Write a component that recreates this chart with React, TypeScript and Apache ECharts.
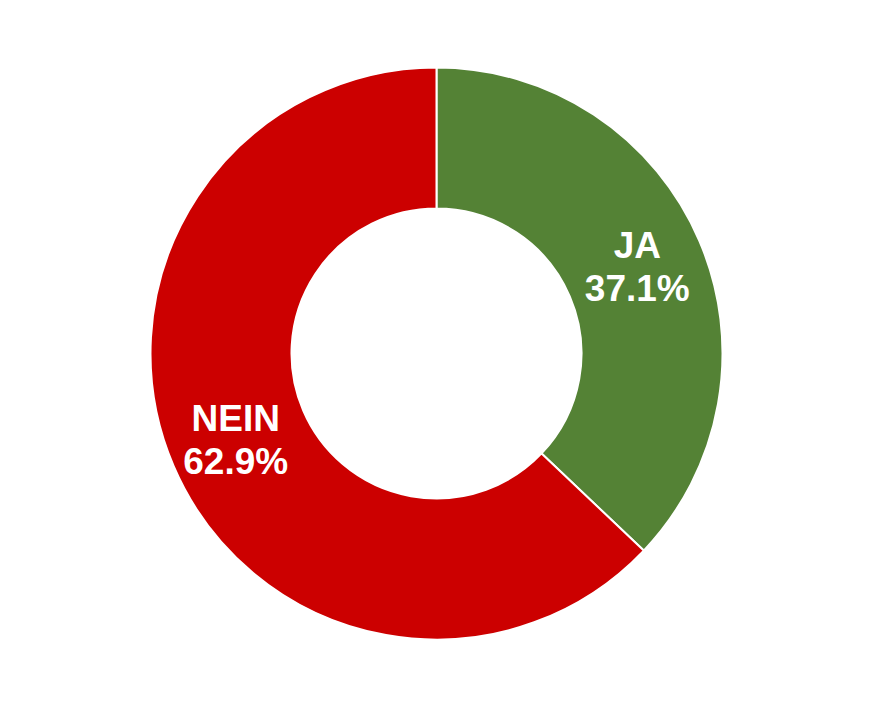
import React, { useEffect, useRef } from "react";
import * as echarts from "echarts";

const categories = ["JA", "NEIN"];
const values = [37.1, 62.9];
const colors = ["#548235", "#CC0000"];

export default function App() {
  const ref = useRef<HTMLDivElement>(null);
  useEffect(() => {
    if (!ref.current) return;
    const chart = echarts.init(ref.current, null, { renderer: "svg" });
    chart.setOption({
      animation: false,
      backgroundColor: "#ffffff",
      series: [
        {
          type: "pie",
          center: [436.5, 353.5],
          radius: [145, 286],
          startAngle: 90,
          clockwise: true,
          avoidLabelOverlap: false,
          itemStyle: { borderColor: "#ffffff", borderWidth: 2 },
          label: {
            show: true,
            position: "inside",
            color: "#ffffff",
            fontFamily: "Liberation Sans, Arial, sans-serif",
            fontWeight: "bold",
            fontSize: 37,
            lineHeight: 43,
            formatter: (p: any) => `${p.name}\n${p.value.toFixed(1)}%`,
          },
          labelLine: { show: false },
          emphasis: { disabled: true },
          data: categories.map((c, i) => ({
            name: c,
            value: values[i],
            itemStyle: { color: colors[i] },
          })),
        },
      ],
    });
    return () => chart.dispose();
  }, []);
  return (
    <div
      ref={ref}
      style={{ position: "fixed", left: 0, top: 0, width: 873, height: 708 }}
    />
  );
}
